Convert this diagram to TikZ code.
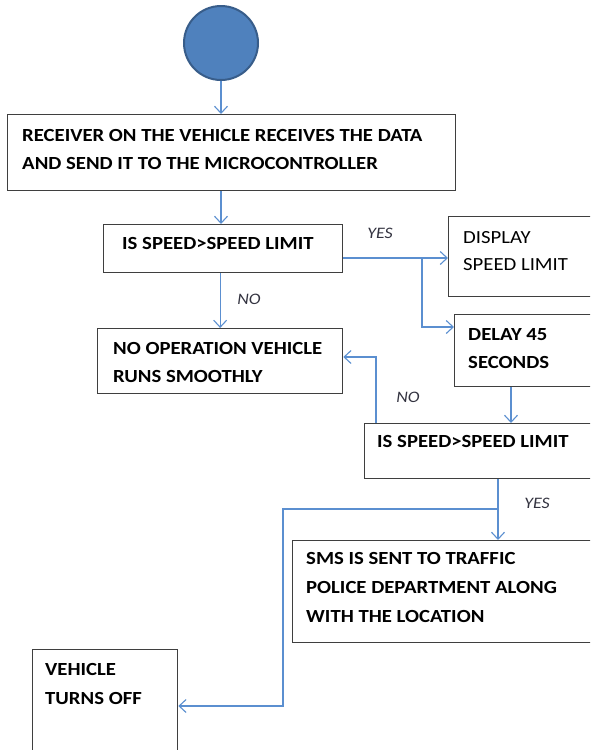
\documentclass[tikz,border=0pt]{standalone}
\usepackage{fontspec}
\setmainfont{Carlito}[FakeStretch=1.12]
\usetikzlibrary{arrows.meta}
\definecolor{conn}{HTML}{5B8FD0}
\definecolor{boxline}{HTML}{3F3F3F}
\definecolor{circfill}{HTML}{4F81BD}
\definecolor{circline}{HTML}{385D8A}
\definecolor{lbl}{HTML}{333340}
\begin{document}
\begin{tikzpicture}[x=1pt,y=-1pt,
  box/.style={draw=boxline, line width=1.3pt, rectangle, inner sep=0pt, anchor=north west},
  btxt/.style={anchor=base west, inner sep=0pt, font=\fontsize{18.5}{22}\selectfont\bfseries},
  rtxt/.style={anchor=base west, inner sep=0pt, font=\fontsize{18.5}{22}\selectfont},
  lab/.style={inner sep=0pt, text=lbl, font=\fontsize{16}{19}\selectfont\itshape},
  arr/.style={draw=conn, line width=1.3pt, -{Straight Barb[length=7pt,width=13pt,line width=1.1pt]}},
  ln/.style={draw=conn, line width=1.3pt}]
\useasboundingbox (0,0) rectangle (590,750);
\clip (0,0) rectangle (590,750);

% start circle
\node[circle, fill=circfill, draw=circline, line width=2pt, minimum size=74pt, inner sep=0pt] (start) at (221,43) {};

% boxes
\node[box, minimum width=448pt, minimum height=76pt] (b1) at (7,114) {};
\node[btxt] (t1a) at (22,141) {RECEIVER ON THE VEHICLE RECEIVES THE DATA};
\node[btxt] (t1b) at (22,169) {AND SEND IT TO THE MICROCONTROLLER};

\node[box, minimum width=239pt, minimum height=48pt] (b2) at (103,224) {};
\node[btxt] (t2) at (122,249) {IS SPEED>SPEED LIMIT};

\node[box, minimum width=160pt, minimum height=80pt] (disp) at (448,216) {};
\node[rtxt] (td1) at (463,243) {DISPLAY};
\node[rtxt] (td2) at (463,270) {SPEED LIMIT};

\node[box, minimum width=245pt, minimum height=65pt] (noop) at (97,328) {};
\node[btxt] (tn1) at (113,354) {NO OPERATION VEHICLE};
\node[btxt] (tn2) at (113,382) {RUNS SMOOTHLY};

\node[box, minimum width=150pt, minimum height=72pt] (delay) at (454,314) {};
\node[btxt] (tdl1) at (468,340) {DELAY 45};
\node[btxt] (tdl2) at (468,368) {SECONDS};

\node[box, minimum width=240pt, minimum height=55pt] (b4) at (364,423) {};
\node[btxt] (t4) at (377,447) {IS SPEED>SPEED LIMIT};

\node[box, minimum width=310pt, minimum height=102pt] (sms) at (292,540) {};
\node[btxt] (ts1) at (306,564) {SMS IS SENT TO TRAFFIC};
\node[btxt] (ts2) at (306,593) {POLICE DEPARTMENT ALONG};
\node[btxt] (ts3) at (306,622) {WITH THE LOCATION};

\node[box, minimum width=145pt, minimum height=120pt] (veh) at (32,649) {};
\node[btxt] (tv1) at (45,675) {VEHICLE};
\node[btxt] (tv2) at (45,704) {TURNS OFF};

% labels
\node[lab] (yes1) at (380,233) {YES};
\node[lab] (no1) at (249,299) {NO};
\node[lab] (no2) at (408,397) {NO};
\node[lab] (yes2) at (537,503) {YES};

% connectors
\draw[arr] (start.south) -- (start.south |- b1.north);
\draw[arr] (b1.south -| start.south) -- (start.south |- b2.north);
\draw[arr] (noop.north |- b2.south) -- (noop.north);
\coordinate (j1) at (422,258);
\draw[arr] (b2.east |- j1) -- (disp.west |- j1);
\draw[arr] (j1) |- ([yshift=-13pt]delay.north west);
\draw[arr] ([xshift=57pt]delay.south west) -- ([xshift=57pt]delay.south west |- b4.north);
\draw[arr] ([xshift=12pt]b4.north west) |- ([yshift=-29pt]noop.north east);
\coordinate (j2) at (498,509);
\coordinate (k) at (283,509);
\draw[arr] ([xshift=134pt]b4.south west) -- ([xshift=134pt]b4.south west |- sms.north);
\draw[arr] (j2) -- (k) |- ([yshift=-57pt]veh.north east);
\end{tikzpicture}
\end{document}
